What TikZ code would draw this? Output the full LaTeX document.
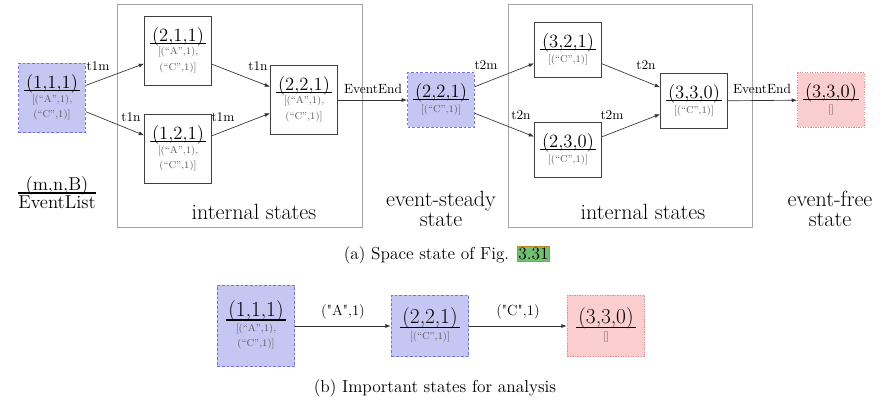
\documentclass[tikz,border=0pt]{standalone}
\usetikzlibrary{arrows,positioning}
\usetikzlibrary{arrows.meta}

\definecolor{steadyfill}{RGB}{198,198,242}
\definecolor{steadyline}{RGB}{120,112,222}
\definecolor{freefill}{RGB}{250,206,206}
\definecolor{freeline}{RGB}{232,140,140}
\definecolor{listgray}{RGB}{95,85,95}
\definecolor{framegray}{RGB}{165,165,165}
\definecolor{reffill}{RGB}{112,192,112}
\definecolor{refline}{RGB}{190,140,40}

\setlength{\arrayrulewidth}{0.8pt}
\newcommand{\listfont}{\fontsize{7.5}{11.5}\selectfont}
% state: (m,n,B) over EventList
\newcommand{\stlabel}[3][14]{\begin{tabular}{@{\,}c@{\,}}\fontsize{#1}{16}\selectfont #2\\[-2pt]\hline\listfont\color{listgray}\begin{tabular}{@{}c@{}}#3\end{tabular}\end{tabular}}
\newcommand{\figref}[1]{{\setlength{\fboxsep}{0.6pt}\setlength{\fboxrule}{0.6pt}\fcolorbox{refline}{reffill}{#1}}}

\begin{document}
\begin{tikzpicture}[x=0.75pt,y=0.75pt,yscale=-1,xscale=1,
	stbox/.style={draw=black!75, line width=0.9pt, fill=white, inner sep=1pt, minimum width=50pt, align=center},
	twoline/.style={minimum height=52pt},
	oneline/.style={minimum height=41pt},
	steady/.style={stbox, draw=steadyline, fill=steadyfill, dash pattern=on 2pt off 1.5pt},
	free/.style={stbox, draw=freeline, fill=freefill, densely dotted},
	wide/.style={minimum width=58pt},
	trans/.style={-{Latex[length=4pt,width=3pt]}, draw=black!80, line width=0.5pt},
	tlabel/.style={font=\fontsize{10}{12}\selectfont, inner sep=0pt},
	bigtext/.style={font=\fontsize{16.5}{15.5}\selectfont, align=center, inner sep=0pt},
	caption/.style={font=\fontsize{13}{15}\selectfont, inner sep=0pt}]
	\path[use as bounding box] (0,0) rectangle (884,403);
	
	%Frames: internal states
	\draw [framegray, line width=0.6pt] (117,4) rectangle (362,227);
	\draw [framegray, line width=0.6pt] (508,4) rectangle (752,227);
	
	% States (a)
	\draw (52,98) node (s111) [steady, twoline] {\stlabel{(1,1,1)}{[(``A'',1),\\(``C'',1)]}};
	\draw (178,51) node (s211) [stbox, twoline] {\stlabel{(2,1,1)}{[(``A'',1),\\(``C'',1)]}};
	\draw (178,149) node (s121) [stbox, twoline] {\stlabel{(1,2,1)}{[(``A'',1),\\(``C'',1)]}};
	\draw (304,100) node (s221i) [stbox, twoline] {\stlabel{(2,2,1)}{[(``A'',1),\\(``C'',1)]}};
	\draw (441,100) node (s221) [steady, oneline] {\stlabel{(2,2,1)}{[(``C'',1)]}};
	\draw (568,50) node (s321) [stbox, oneline] {\stlabel{(3,2,1)}{[(``C'',1)]}};
	\draw (568,150) node (s230) [stbox, oneline] {\stlabel{(2,3,0)}{[(``C'',1)]}};
	\draw (694,101) node (s330i) [stbox, oneline] {\stlabel{(3,3,0)}{[(``C'',1)]}};
	\draw (831,100) node (s330) [free, oneline] {\stlabel{(3,3,0)}{[]}};
	
	% Transitions (a)
	\draw [trans] (s111) -- (s211);
	\draw [trans] (s111) -- (s121);
	\draw [trans] (s211) -- (s221i);
	\draw [trans] (s121) -- (s221i);
	\draw [trans] (s221i) -- (s221);
	\draw [trans] (s221) -- (s321);
	\draw [trans] (s221) -- (s230);
	\draw [trans] (s321) -- (s330i);
	\draw [trans] (s230) -- (s330i);
	\draw [trans] (s330i) -- (s330);
	
	% Text Node
	\draw (98,66) node (l1) [tlabel] {t1m};
	\draw (131,117) node (l2) [tlabel] {t1n};
	\draw (258,66) node (l3) [tlabel] {t1n};
	\draw (223,117) node (l4) [tlabel] {t1m};
	\draw (373,89) node (l5) [tlabel] {EventEnd};
	\draw (486,65) node (l6) [tlabel] {t2m};
	\draw (521,115) node (l7) [tlabel] {t2n};
	\draw (646,65) node (l8) [tlabel] {t2n};
	\draw (612,115) node (l9) [tlabel] {t2m};
	\draw (762,89) node (l10) [tlabel] {EventEnd};
	
	% Text Node
	\draw (57,195) node (legend) [font=\fontsize{14}{16}\selectfont, inner sep=0pt] {\begin{tabular}{@{}c@{}}(m,n,B)\\[-3pt]\hline EventList\end{tabular}};
	\draw (254,212) node (int1) [bigtext] {internal states};
	\draw (643,212) node (int2) [bigtext] {internal states};
	\draw (441,209) node (steadytxt) [bigtext] {event-steady\\state};
	\draw (830,209) node (freetxt) [bigtext] {event-free\\state};
	\draw (447,255) node (capa) [caption] {(a) Space state of Fig. \figref{3.31}};
	
	% States (b)
	\draw (256,326) node (b111) [steady, wide, minimum height=61pt] {\stlabel[16]{(1,1,1)}{[(``A'',1),\\(``C'',1)]}};
	\draw (430,326) node (b221) [steady, wide, minimum height=46pt] {\stlabel[16]{(2,2,1)}{[(``C'',1)]}};
	\draw (606,326) node (b330) [free, wide, minimum height=46pt] {\stlabel[16]{(3,3,0)}{[]}};
	\draw [trans] (b111) -- (b221);
	\draw [trans] (b221) -- (b330);
	
	% Text Node
	\draw (343,312) node (ea) [tlabel, font=\fontsize{11}{13}\selectfont] {(\textquotedbl A\textquotedbl,1)};
	\draw (518,312) node (ec) [tlabel, font=\fontsize{11}{13}\selectfont] {(\textquotedbl C\textquotedbl,1)};
	\draw (435,388) node (capb) [caption] {(b) Important states for analysis};
	
\end{tikzpicture}
\end{document}
